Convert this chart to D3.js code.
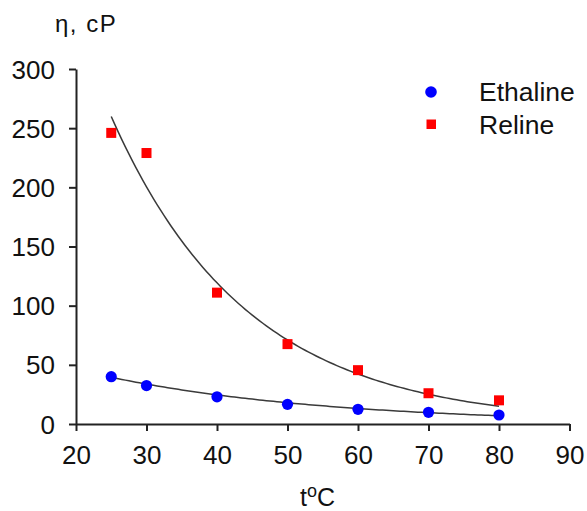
<!DOCTYPE html>
<html>
<head>
<meta charset="utf-8">
<script src="https://cdn.jsdelivr.net/npm/d3@7"></script>
<style>
    body { margin: 0; background: #fff; }
    svg text { font-family: "Liberation Sans", Arial, sans-serif; fill: #111; }
    .axis path, .axis line { stroke: #222; stroke-width: 2; }
</style>
</head>
<body>
<div id="chart"></div>
<script>
// temperatures, degrees C
var temps = [25, 30, 40, 50, 60, 70, 80];
// viscosity, cP
var ethaline = [40, 32.5, 23, 16.6, 12.4, 9.9, 7.6];
var reline = [246, 229, 111, 67.5, 45.5, 26, 20];

// exponential trendlines y = A * exp(-k * t)
var ethalineTrend = { A: 86.8, k: 0.0315 };
var relineTrend = { A: 951, k: 0.0519 };

var xTicks = [20, 30, 40, 50, 60, 70, 80, 90];
var yTicks = [0, 50, 100, 150, 200, 250, 300];

var chart = {};
chart.width = 587;
chart.height = 511;
chart.margin = { top: 69, left: 76, right: 17.5, bottom: 87 };

chart.svg = d3.select("#chart")
    .append("svg")
    .attr("width", chart.width)
    .attr("height", chart.height);

/*
SCALES
*/
chart.xScale = d3.scaleLinear()
    .domain([20, 90])
    .range([chart.margin.left, chart.width - chart.margin.right]);

chart.yScale = d3.scaleLinear()
    .domain([0, 300])
    .range([chart.height - chart.margin.bottom, chart.margin.top]);

/*
AXES
*/
chart.xAxis = chart.svg.append("g")
    .attr("class", "axis")
    .attr("transform", `translate(0, ${chart.height - chart.margin.bottom})`)
    .call(d3.axisBottom(chart.xScale).tickValues(xTicks).tickSize(7).tickPadding(15).tickSizeOuter(0));

chart.yAxis = chart.svg.append("g")
    .attr("class", "axis")
    .attr("transform", `translate(${chart.margin.left}, 0)`)
    .call(d3.axisLeft(chart.yScale).tickValues(yTicks).tickSize(7).tickPadding(14).tickSizeOuter(0));

chart.svg.selectAll(".axis text")
    .style("font-size", "26px")
    .style("font-family", "'Liberation Sans', Arial, sans-serif")
    .attr("fill", "#111");

chart.svg.selectAll(".axis .tick text").filter(function() {
    return this.parentNode.parentNode === chart.yAxis.node();
}).attr("dy", "0.35em");

/*
AXIS LABELS
*/
chart.yLabel = chart.svg.append("text")
    .attr("x", 55)
    .attr("y", 32)
    .style("font-size", "24px")
    .style("letter-spacing", "1.5px")
    .text("η, cP");

chart.xLabel = chart.svg.append("text")
    .attr("x", 300)
    .attr("y", 506)
    .style("font-size", "25px");
chart.xLabel.append("tspan").text("t");
chart.xLabel.append("tspan").attr("dy", -9).style("font-size", "18px").text("o");
chart.xLabel.append("tspan").attr("dy", 9).text("C");

/*
TRENDLINES
*/
var curveX = d3.range(25, 80.01, 0.5);

function trendLine(p) {
    return d3.line()
        .x(function(t) { return chart.xScale(t); })
        .y(function(t) { return chart.yScale(p.A * Math.exp(-p.k * t)); })(curveX);
}

chart.svg.append("path")
    .attr("d", trendLine(relineTrend))
    .attr("fill", "none")
    .attr("stroke", "#3a3a3a")
    .attr("stroke-width", 1.5);

chart.svg.append("path")
    .attr("d", trendLine(ethalineTrend))
    .attr("fill", "none")
    .attr("stroke", "#3a3a3a")
    .attr("stroke-width", 1.5);

/*
POINTS
*/
chart.circles = chart.svg.selectAll("circle.eth")
    .data(temps)
    .enter()
    .append("circle")
    .attr("class", "eth")
    .attr("cx", function(d) { return chart.xScale(d); })
    .attr("cy", function(d, i) { return chart.yScale(ethaline[i]); })
    .attr("r", 5.6)
    .attr("fill", "#0000ff");

chart.squares = chart.svg.selectAll("rect.rel")
    .data(temps)
    .enter()
    .append("rect")
    .attr("class", "rel")
    .attr("x", function(d) { return chart.xScale(d) - 5; })
    .attr("y", function(d, i) { return chart.yScale(reline[i]) - 5; })
    .attr("width", 10)
    .attr("height", 10)
    .attr("fill", "#ff0000");

/*
LEGEND
*/
chart.legend = chart.svg.append("g");

chart.legend.append("circle")
    .attr("cx", 431)
    .attr("cy", 92)
    .attr("r", 5.8)
    .attr("fill", "#0000ff");

chart.legend.append("rect")
    .attr("x", 426.5)
    .attr("y", 119.5)
    .attr("width", 9.5)
    .attr("height", 9.5)
    .attr("fill", "#ff0000");

chart.legend.append("text")
    .attr("x", 479)
    .attr("y", 101)
    .style("font-size", "26.5px")
    .text("Ethaline");

chart.legend.append("text")
    .attr("x", 479)
    .attr("y", 134)
    .style("font-size", "26.5px")
    .text("Reline");
</script>
</body>
</html>
